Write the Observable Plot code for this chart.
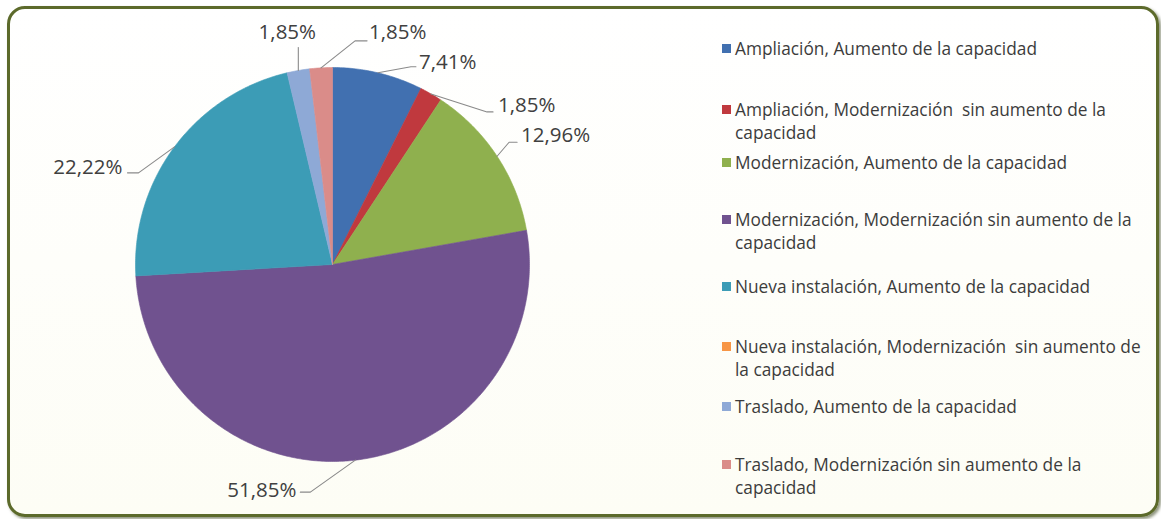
<!DOCTYPE html>
<html>
<head>
<meta charset="utf-8">
<script src="https://cdn.jsdelivr.net/npm/d3@7"></script>
<script src="https://cdn.jsdelivr.net/npm/@observablehq/plot@0.6"></script>
<style>
html, body { margin: 0; padding: 0; background: #fff; }
#wrap { position: relative; width: 1161px; height: 519px; overflow: hidden; font-family: "Open Sans", sans-serif; }
#frame { position: absolute; left: 7px; top: 6px; width: 1152px; height: 511px; box-sizing: border-box;
  border: 3px solid #5C6A2B; border-radius: 18px; box-shadow: 2px 2px 3px rgba(50,60,20,0.55);
  background: linear-gradient(#ffffff, #fdfdf5); }
#chart { position: absolute; left: 0; top: 0; }
#legend { position: absolute; left: 0; top: 0; width: 1161px; height: 519px; }
.entry { position: absolute; left: 735px; font-size: 17.3px; line-height: 23px; color: #3c3c3c; white-space: pre; }
.sw { position: absolute; left: -13px; top: 7px; width: 9px; height: 9px; }
</style>
</head>
<body>
<div id="wrap">
  <div id="frame"></div>
  <div id="chart"></div>
  <div id="legend"></div>
</div>
<script>
// ---- data ----
const categories = [
  "Ampliación, Aumento de la capacidad",
  "Ampliación, Modernización  sin aumento de la capacidad",
  "Modernización, Aumento de la capacidad",
  "Modernización, Modernización sin aumento de la capacidad",
  "Nueva instalación, Aumento de la capacidad",
  "Nueva instalación, Modernización  sin aumento de la capacidad",
  "Traslado, Aumento de la capacidad",
  "Traslado, Modernización sin aumento de la capacidad"
];
const values = [7.41, 1.85, 12.96, 51.85, 22.22, 0, 1.85, 1.85];
const colors = ["#4170B0", "#C0393E", "#8FB04E", "#70528F", "#3C9CB6", "#F79646", "#8EA9D6", "#DA8C89"];

// ---- layout (pixels) ----
const W = 690, H = 519;
const mL = 135, mR = 161, mT = 67, mB = 58;
const R = (W - mL - mR) / 2; // pixel radius
// leader line elbow/end offsets from arc midpoint, text offsets from end
const labelLayout = [
  {elbow: [33, -6], end: [38, -6], anchor: "start", tdx: 3, tdy: -4},
  {elbow: [56, 18], end: [62, 18], anchor: "start", tdx: 5, tdy: -6},
  {elbow: [12, -14], end: [20, -14], anchor: "start", tdx: 4, tdy: -7},
  {elbow: [-45, 32], end: [-55, 32], anchor: "end", tdx: -4, tdy: -2},
  {elbow: [-36, 26], end: [-47, 26], anchor: "end", tdx: -5, tdy: -5},
  null,
  {elbow: [0, -23], end: [0, -23], anchor: "middle", tdx: -11, tdy: -15},
  {elbow: [34, -27], end: [46, -27], anchor: "start", tdx: 2, tdy: -8}
];
const legendTop = [37, 98, 151, 208, 275, 335, 395, 453];
const legendBreak = [0, 7, 0, 6, 0, 7, 0, 6];

// ---- build geometry from data ----
const arcs = d3.pie().sort(null).value(d => d)(values);
const slices = arcs.flatMap((a, i) => {
  const span = a.endAngle - a.startAngle;
  if (span <= 0) return [];
  const cat = categories[i];
  const n = Math.max(2, Math.ceil(span / 0.01));
  const pts = [{x: 0, y: 0, cat}];
  for (let k = 0; k <= n; k++) {
    const t = a.startAngle + span * k / n;
    pts.push({x: Math.sin(t), y: Math.cos(t), cat});
  }
  pts.push({x: 0, y: 0, cat});
  return pts;
});

const fmt = v => v.toFixed(2).replace(".", ",") + "%";
const leaders = [];
const labels = [];
arcs.forEach((a, i) => {
  const L = labelLayout[i];
  if (!L || values[i] <= 0) return;
  const m = (a.startAngle + a.endAngle) / 2;
  const px = Math.sin(m), py = Math.cos(m);
  const P = (o) => ({x: px + o[0] / R, y: py - o[1] / R});
  const e = P(L.elbow), en = P(L.end);
  leaders.push({x: px, y: py, k: i}, {x: e.x, y: e.y, k: i}, {x: en.x, y: en.y, k: i});
  labels.push({x: en.x, y: en.y, text: fmt(values[i]), anchor: L.anchor, dx: L.tdx, dy: L.tdy});
});

const textMark = (anchor) => {
  const d = labels.filter(l => l.anchor === anchor);
  return d.map(l => Plot.text([l], {x: "x", y: "y", text: "text", textAnchor: anchor,
    dx: l.dx, dy: l.dy, fontSize: 20.5, fill: "#404040", fontFamily: "Open Sans"}));
};

const chart = Plot.plot({
  width: W, height: H,
  marginLeft: mL, marginRight: mR, marginTop: mT, marginBottom: mB,
  x: {domain: [-1, 1], axis: null},
  y: {domain: [-1, 1], axis: null},
  color: {domain: categories, range: colors},
  style: {background: "transparent", overflow: "visible"},
  marks: [
    Plot.line(slices, {x: "x", y: "y", z: "cat", fill: "cat", stroke: "cat", strokeWidth: 0.6}),
    Plot.line(leaders, {x: "x", y: "y", z: "k", stroke: "#8a8a8a", strokeWidth: 1.1}),
    ...textMark("start"), ...textMark("end"), ...textMark("middle")
  ]
});
document.getElementById("chart").appendChild(chart);

// ---- legend (HTML) ----
const leg = document.getElementById("legend");
categories.forEach((c, i) => {
  const div = document.createElement("div");
  div.className = "entry";
  div.style.top = legendTop[i] + "px";
  const sw = document.createElement("span");
  sw.className = "sw";
  sw.style.background = colors[i];
  div.appendChild(sw);
  const toks = c.split(" ");
  const b = legendBreak[i];
  const txt = b ? toks.slice(0, b).join(" ") + "\n" + toks.slice(b).join(" ") : c;
  div.appendChild(document.createTextNode(txt));
  leg.appendChild(div);
});
</script>
</body>
</html>
